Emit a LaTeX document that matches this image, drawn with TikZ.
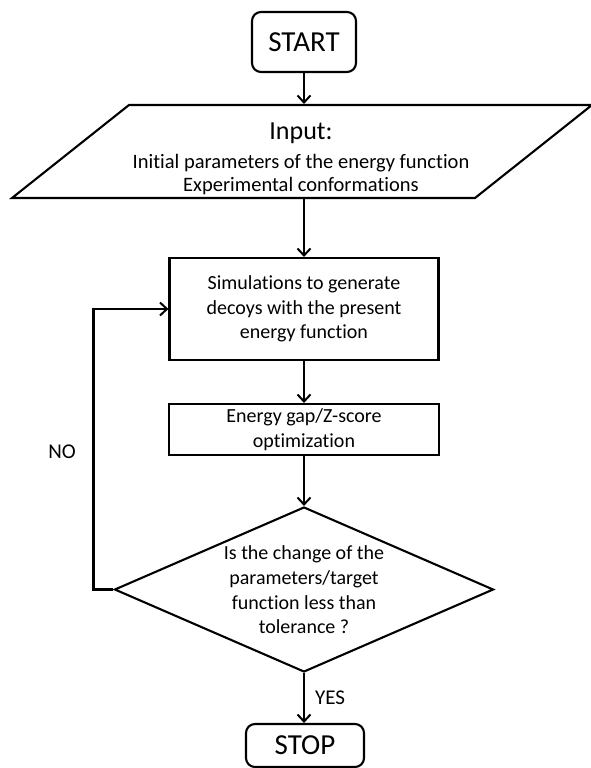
\documentclass[tikz,border=0pt]{standalone}
\usepackage{fontspec}
\setmainfont{Carlito}[Ligatures=NoCommon]
\usetikzlibrary{arrows.meta,shapes.geometric}
\begin{document}
\begin{tikzpicture}[x=1pt,y=-1pt,
  line width=2.1pt,
  flow/.style={-{Straight Barb[length=7pt,width=13pt,line width=2pt]}},
  terminal/.style={draw,rounded corners=9pt,inner sep=0pt,font=\fontsize{29}{34}\selectfont},
  procbox/.style={draw,inner sep=0pt,align=center,font=\fontsize{20}{24.5}\selectfont},
  bodytext/.style={inner sep=0pt,align=center,font=\fontsize{20.5}{23}\selectfont},
  lbl/.style={inner sep=0pt,font=\fontsize{21}{25}\selectfont}]
\useasboundingbox (0,0) rectangle (590,768);

% start terminal
\node[terminal,minimum width=104pt,minimum height=60pt] (start) at (304,42) {START};

% input parallelogram
\draw (12,198) -- (475,198) -- (592,105) -- (129,105) -- cycle;
\node[inner sep=0pt,minimum width=346pt,minimum height=93pt] (input) at (304,151.5) {};
\node[inner sep=0pt,font=\fontsize{26}{30}\selectfont] (inhead) at (301,133) {Input:};
\node[bodytext] (inbody) at (301,175) {Initial parameters of the energy function\\Experimental conformations};

% process boxes
\node[procbox,minimum width=269pt,minimum height=102pt] (sim) at (304,309)
  {Simulations to generate\\decoys with the present\\energy function};
\node[procbox,minimum width=270pt,minimum height=51pt] (opt) at (304,429.5)
  {Energy gap/Z-score\\optimization};

% decision
\node[diamond,draw,minimum width=379pt,minimum height=165pt,inner sep=0pt] (dec) at (304,589.5) {};
\node[bodytext,font=\fontsize{20}{24.7}\selectfont] (question) at (304,590)
  {Is the change of the\\parameters/target\\function less than\\tolerance ?};

% stop terminal
\node[terminal,minimum width=118pt,minimum height=43pt] (stop) at (305,745.5) {STOP};

% connectors
\draw[flow] (start.south) -- (input.north);
\draw[flow] (input.south) -- (sim.north);
\draw[flow] (sim.south) -- (opt.north);
\draw[flow] (opt.south) -- (dec.north);
\draw[flow] (dec.south) -- (dec.south |- stop.north);
\draw[flow] (dec.west) -- ++(-20,0) |- (sim.west);

% branch labels
\node[lbl] (no) at (62,452) {NO};
\node[lbl,anchor=west] (yes) at (314,698) {YES};
\end{tikzpicture}
\end{document}
